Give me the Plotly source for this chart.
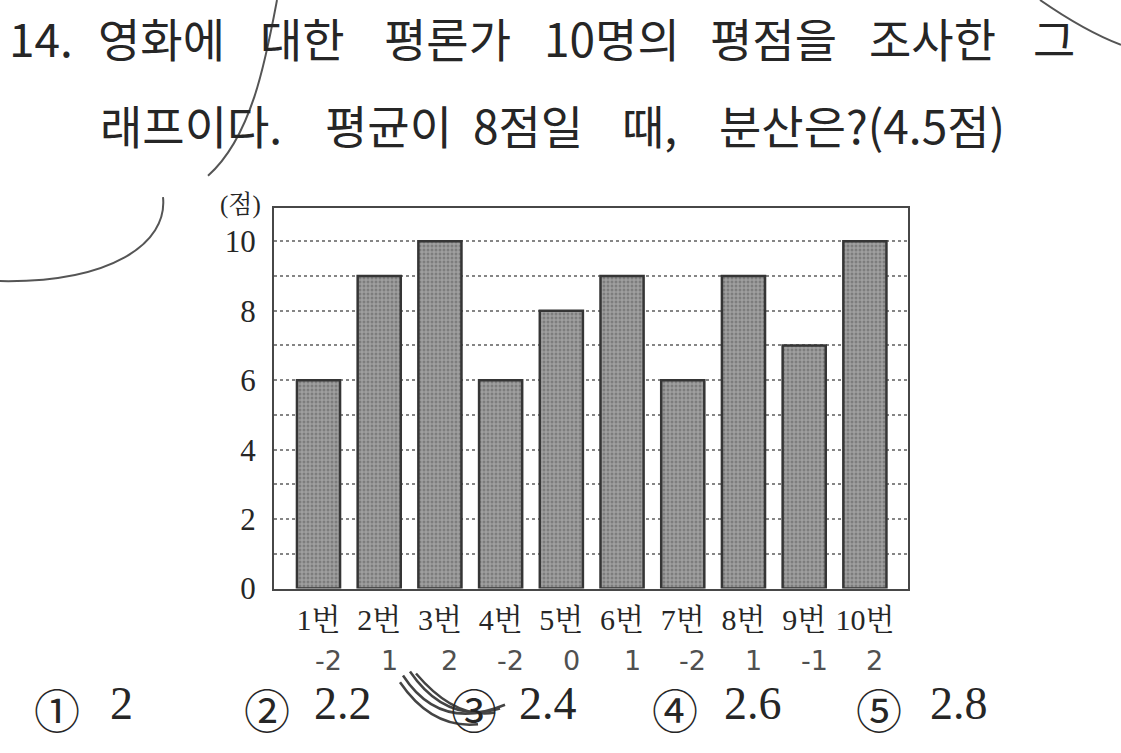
import plotly.graph_objects as go

# ---- data ----
categories = ["1번", "2번", "3번", "4번", "5번", "6번", "7번", "8번", "9번", "10번"]
scores = [6, 9, 10, 6, 8, 9, 6, 9, 7, 10]
y_tick_values = [0, 2, 4, 6, 8, 10]
y_tick_labels = ["0", "2", "4", "6", "8", "10"]
handwritten_marks = ["-2", "1", "2", "-2", "0", "1", "-2", "1", "-1", "2"]
choice_marks = ["①", "②", "③", "④", "⑤"]
choice_values = ["2", "2.2", "2.4", "2.6", "2.8"]

title_line1_words = ["14.", "영화에", "대한", "평론가", "10명의", "평점을", "조사한", "그"]
title_line2_words = ["래프이다.", "평균이", "8점일", "때,", "분산은?(4.5점)"]
y_unit = "(점)"

# ---- layout helpers (pixel positions on the 1121x753 page) ----
W, H = 1121, 753
def px(x):
    return x / W
def py(y):
    return 1 - y / H

line1_x = [11, 100, 262, 386, 546, 712, 871, 1035]
line2_x = [102, 327, 475, 624, 721]
choice_mark_cx = [57, 267, 474, 675, 879]
choice_value_cx = [121, 343, 548, 753, 959]

SERIF = "Liberation Serif, Noto Serif CJK KR, Noto Sans CJK KR, serif"
SANS = "Noto Sans CJK KR, sans-serif"
INK = "#262626"

fig = go.Figure()
fig.add_trace(go.Bar(
    x=categories, y=scores, width=0.71,
    marker=dict(
        color="#929292",
        line=dict(color="#353535", width=2.5),
        pattern=dict(shape=".", fgcolor="#575757", bgcolor="#a0a0a0", size=4, solidity=0.45),
    ),
    hoverinfo="x+y",
))

fig.update_layout(
    width=W, height=H,
    margin=dict(l=0, r=0, t=0, b=0),
    paper_bgcolor="white", plot_bgcolor="white",
    showlegend=False,
    xaxis=dict(
        domain=[px(274), px(908)],
        type="category",
        range=[-0.733, 9.71],
        showgrid=False,
        showline=True, mirror=True, linecolor="#474747", linewidth=2,
        ticks="", ticklabelstandoff=3,
        tickfont=dict(family=SERIF, size=30, color=INK),
    ),
    yaxis=dict(
        domain=[py(603), py(213)],
        range=[0, 10.96],
        tickvals=y_tick_values, ticktext=y_tick_labels,
        showgrid=True, gridcolor="#858585", gridwidth=1.5, griddash="dot",
        minor=dict(dtick=1, showgrid=True, gridcolor="#858585", gridwidth=1.5, griddash="dot"),
        zeroline=False,
        showline=True, mirror=True, linecolor="#474747", linewidth=2,
        ticks="", ticklabelstandoff=10,
        tickfont=dict(family=SERIF, size=31, color=INK),
    ),
)

ann = []
for word, wx in zip(title_line1_words, line1_x):
    ann.append(dict(text=word, x=px(wx), y=py(38), xref="paper", yref="paper",
                    xanchor="left", yanchor="middle", showarrow=False, borderpad=0,
                    xshift=-3, font=dict(family=SANS, size=46, color=INK)))
for word, wx in zip(title_line2_words, line2_x):
    ann.append(dict(text=word, x=px(wx), y=py(127), xref="paper", yref="paper",
                    xanchor="left", yanchor="middle", showarrow=False, borderpad=0,
                    xshift=-3, font=dict(family=SANS, size=46, color=INK)))
ann.append(dict(text=y_unit, x=px(240), y=py(210), xref="paper", yref="paper",
                xanchor="center", yanchor="middle", showarrow=False,
                font=dict(family=SERIF, size=25, color=INK)))

for cat, mark in zip(categories, handwritten_marks):
    ann.append(dict(text=mark, x=cat, y=py(677), xref="x", yref="paper", xshift=10,
                    xanchor="center", yanchor="middle", showarrow=False, borderpad=0,
                    font=dict(family="DejaVu Sans", size=27, color="#505050")))

for mcx, vcx, m, v in zip(choice_mark_cx, choice_value_cx, choice_marks, choice_values):
    ann.append(dict(text=m, x=px(mcx), y=py(725), xref="paper", yref="paper",
                    xanchor="center", yanchor="middle", showarrow=False, borderpad=0,
                    font=dict(family=SANS, size=46, color=INK)))
    ann.append(dict(text=v, x=px(vcx), y=py(721), xref="paper", yref="paper",
                    xanchor="center", yanchor="middle", showarrow=False, borderpad=0,
                    font=dict(family=SERIF, size=46, color=INK)))
fig.update_layout(annotations=ann)

# pen strokes (handwritten scribbles on the scan)
pen = dict(color="#555555", width=2)
def P(x, y):
    return f"{px(x)},{py(y)}"
paths = [
    f"M{P(277,0)} C{P(266,60)} {P(252,140)} {P(208,180)}",
    f"M{P(163,202)} C{P(168,250)} {P(110,290)} {P(0,288)}",
    f"M{P(1040,0)} Q{P(1085,32)} {P(1121,46)}",
]
for d in paths:
    fig.add_shape(type="path", path=d, xref="paper", yref="paper", line=pen, layer="above")
scribble = dict(color="#444444", width=2.5)
scribbles = [
    f"M{P(403,692)} Q{P(440,750)} {P(505,722)}",
    f"M{P(410,688)} Q{P(446,742)} {P(500,726)}",
    f"M{P(400,699)} Q{P(432,747)} {P(478,742)}",
    f"M{P(416,690)} Q{P(455,737)} {P(495,730)}",
]
for d in scribbles:
    fig.add_shape(type="path", path=d, xref="paper", yref="paper", line=scribble, layer="above")

fig.write_html(
    "out.html",
    config={"displayModeBar": False},
    post_script=(
        "document.documentElement.style.margin='0';"
        "document.documentElement.style.overflow='hidden';"
        "document.body.style.margin='0';"
        "document.body.style.overflow='hidden';"
    ),
)
